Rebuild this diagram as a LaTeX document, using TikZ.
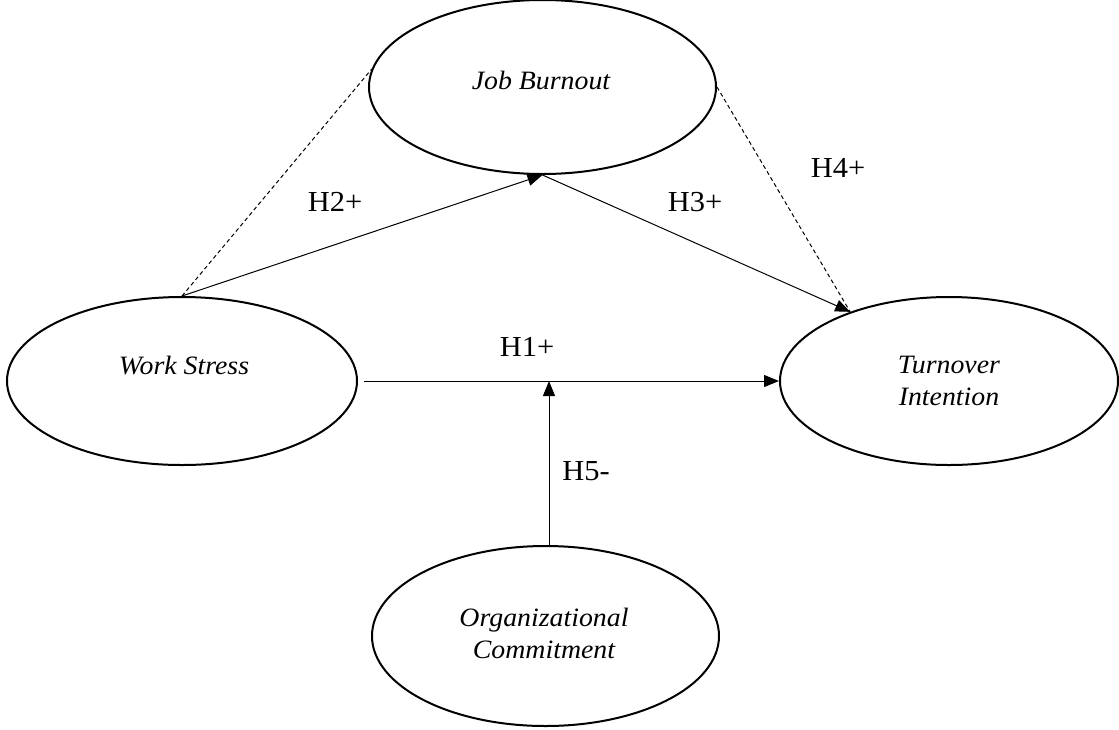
\documentclass[tikz,border=0pt]{standalone}
\usepackage{fontspec}
\setmainfont{Liberation Serif}
\newfontfamily\diagfont[FakeStretch=1.05]{Liberation Serif}
\usetikzlibrary{shapes.geometric,arrows.meta}
\begin{document}
\begin{tikzpicture}[x=1pt,y=-1pt,
  construct/.style={draw, ellipse, line width=2pt, inner sep=0pt},
  ctext/.style={font=\diagfont\itshape\fontsize{26.5}{30}\selectfont, anchor=base, inner sep=0pt},
  hlabel/.style={font=\diagfont\fontsize{29}{32}\selectfont, anchor=base, inner sep=0pt},
  arrowline/.style={line width=1pt, -{Triangle[length=15pt,width=12pt]}},
  dashline/.style={line width=1pt, dash pattern=on 4pt off 3pt}]
\useasboundingbox (0,0) rectangle (1119,729);

% constructs
\node[construct, minimum width=347pt, minimum height=174pt] (JB) at (542.5,87) {};
\node[construct, minimum width=350pt, minimum height=168pt] (WS) at (182,381) {};
\node[construct, minimum width=338pt, minimum height=168pt] (TI) at (949,381) {};
\node[construct, minimum width=347pt, minimum height=180pt] (OC) at (545.5,636) {};

% construct texts
\node[ctext] (jbt) at (541,89) {Job Burnout};
\node[ctext] (wst) at (184,374) {Work Stress};
\node[ctext] (tit1) at (949,373) {Turnover};
\node[ctext] (tit2) at (949,405) {Intention};
\node[ctext] (oct1) at (544,626) {Organizational};
\node[ctext] (oct2) at (544,658) {Commitment};

% connectors
\draw[arrowline] (WS.north) -- (JB.south);
\draw[arrowline] (JB.south) -- (TI.145);
\draw[dashline] (WS.north) -- (JB.174);
\draw[dashline] (JB.east) -- (TI.145);
\draw[arrowline] ([xshift=6pt]WS.east) -- (TI.west);
\coordinate (m) at (549,381);
\draw[arrowline] (m |- OC.north) -- (m);

% hypothesis labels
\node[hlabel] (h2) at (335,211) {H2+};
\node[hlabel] (h3) at (695,211) {H3+};
\node[hlabel] (h4) at (838,177) {H4+};
\node[hlabel] (h1) at (527,356) {H1+};
\node[hlabel] (h5) at (586,480) {H5-};
\end{tikzpicture}
\end{document}
